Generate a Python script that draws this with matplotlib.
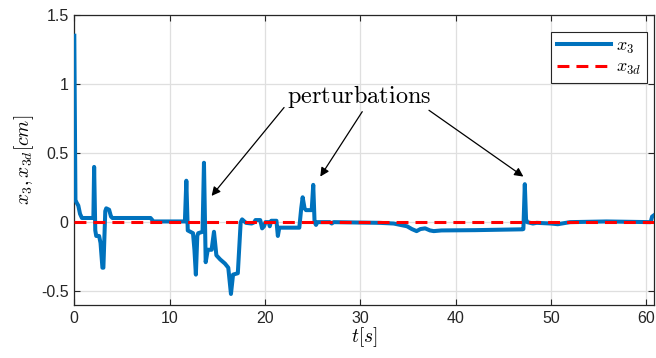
import matplotlib
matplotlib.use("Agg")
import matplotlib.pyplot as plt

plt.rcParams['font.family'] = ['Liberation Sans', 'DejaVu Sans']
plt.rcParams['mathtext.fontset'] = 'cm'

# data
t = [0.0, 0.12, 0.25, 0.42, 0.6, 0.8, 2.0, 2.08, 2.2, 2.3, 2.6, 2.75, 2.95, 3.05,
     3.25, 3.35, 3.65, 3.85, 4.0, 8.0, 8.3, 11.6, 11.75, 11.9, 12.45, 12.6, 12.75,
     12.9, 13.0, 13.45, 13.6, 13.78, 14.0, 14.4, 14.65, 14.9, 15.3, 15.8, 16.15,
     16.43, 16.65, 17.15, 17.45, 17.6, 18.0, 18.6, 18.9, 19.0, 19.5, 19.7, 19.9,
     20.05, 20.4, 20.5, 20.65, 21.2, 21.35, 21.5, 23.6, 23.8, 23.95, 24.15, 24.3,
     24.9, 25.06, 25.2, 25.35, 25.5, 26.8, 27.0, 27.2, 30.0, 32.0, 33.5, 34.2,
     34.9, 35.4, 35.9, 36.3, 36.8, 37.3, 37.7, 38.5, 42.0, 47.0, 47.1, 47.25,
     47.38, 47.5, 48.1, 48.5, 50.0, 50.7, 52.0, 55.8, 60.45, 60.6, 60.8]
x3 = [1.35, 0.16, 0.14, 0.12, 0.06, 0.03, 0.03, 0.40, -0.06, -0.10, -0.10, -0.15,
      -0.33, -0.33, 0.08, 0.10, 0.09, 0.04, 0.03, 0.03, 0.005, 0.005, 0.30, -0.06,
      -0.08, -0.20, -0.38, -0.10, -0.08, -0.07, 0.43, -0.29, -0.20, -0.20, -0.07,
      -0.24, -0.27, -0.30, -0.33, -0.52, -0.38, -0.37, 0.0, 0.02, -0.005, -0.01,
      0.0, 0.015, 0.015, -0.045, -0.03, 0.0, 0.0, -0.03, 0.01, 0.01, -0.10, -0.04,
      -0.04, 0.10, 0.18, 0.10, 0.087, 0.087, 0.27, 0.0, -0.02, 0.0, 0.0, -0.01,
      0.0, -0.003, -0.005, -0.01, -0.02, -0.03, -0.05, -0.065, -0.05, -0.045,
      -0.06, -0.065, -0.06, -0.058, -0.052, -0.05, 0.275, 0.02, 0.0, -0.01,
      -0.005, -0.01, -0.015, 0.0, 0.005, 0.0, 0.04, 0.05]
t_ref = [0.0, 60.8]
x3d = [0.0, 0.0]

xticks = [0, 10, 20, 30, 40, 50, 60]
yticks = [-0.5, 0, 0.5, 1, 1.5]
ytick_labels = ['-0.5', '0', '0.5', '1', '1.5']

annot_text = r'$\mathrm{perturbations}$'
annot_pos = (29.9, 0.91)
arrow_tails = [(22.0, 0.83), (30.2, 0.80), (37.2, 0.81)]
arrow_heads = [(14.4, 0.19), (25.8, 0.33), (47.1, 0.33)]

fig = plt.figure(figsize=(6.56, 3.58), dpi=100)
ax = fig.add_axes([74.3/656, 1-305/358, (654-74.3)/656, (305-15)/358])

ax.plot(t, x3, color='#0072BD', lw=2.9, label=r'$x_3$', zorder=3,
        solid_joinstyle='round')
ln, = ax.plot(t_ref, x3d, color='#FF0000', lw=2.2, label=r'$x_{3d}$', zorder=4)
ln.set_dashes([3.9, 2.3])

ax.set_xlim(0, 60.8)
ax.set_ylim(-0.6, 1.5)
ax.set_xticks(xticks)
ax.set_yticks(yticks)
ax.set_yticklabels(ytick_labels)
ax.grid(True, color='#dfdfdf', lw=0.9)
ax.set_axisbelow(True)
ax.tick_params(direction='in', top=True, right=True, length=4, width=0.8,
               labelsize=11.5, colors='#262626', pad=4)
for s in ax.spines.values():
    s.set_color('#262626')
    s.set_linewidth(0.9)

ax.set_xlabel(r'$t[s]$', fontsize=14, labelpad=0)
ax.set_ylabel(r'$x_3, x_{3d}[cm]$', fontsize=14, labelpad=4)

ax.text(annot_pos[0], annot_pos[1], annot_text, fontsize=17.5,
        ha='center', va='center', zorder=6)
for (tx, ty), (hx, hy) in zip(arrow_tails, arrow_heads):
    ax.annotate('', xy=(hx, hy), xytext=(tx, ty),
                arrowprops=dict(arrowstyle='-|>', color='black', lw=0.9,
                                mutation_scale=13, shrinkA=0, shrinkB=0),
                zorder=6)

leg = ax.legend(loc='upper right', bbox_to_anchor=(0.988, 0.941),
                borderaxespad=0, fontsize=13, handlelength=3.0,
                fancybox=False, framealpha=1, edgecolor='#262626',
                borderpad=0.3, labelspacing=0.2, handletextpad=0.3)
leg.get_frame().set_linewidth(0.8)

fig.savefig('out.png', dpi=100)
